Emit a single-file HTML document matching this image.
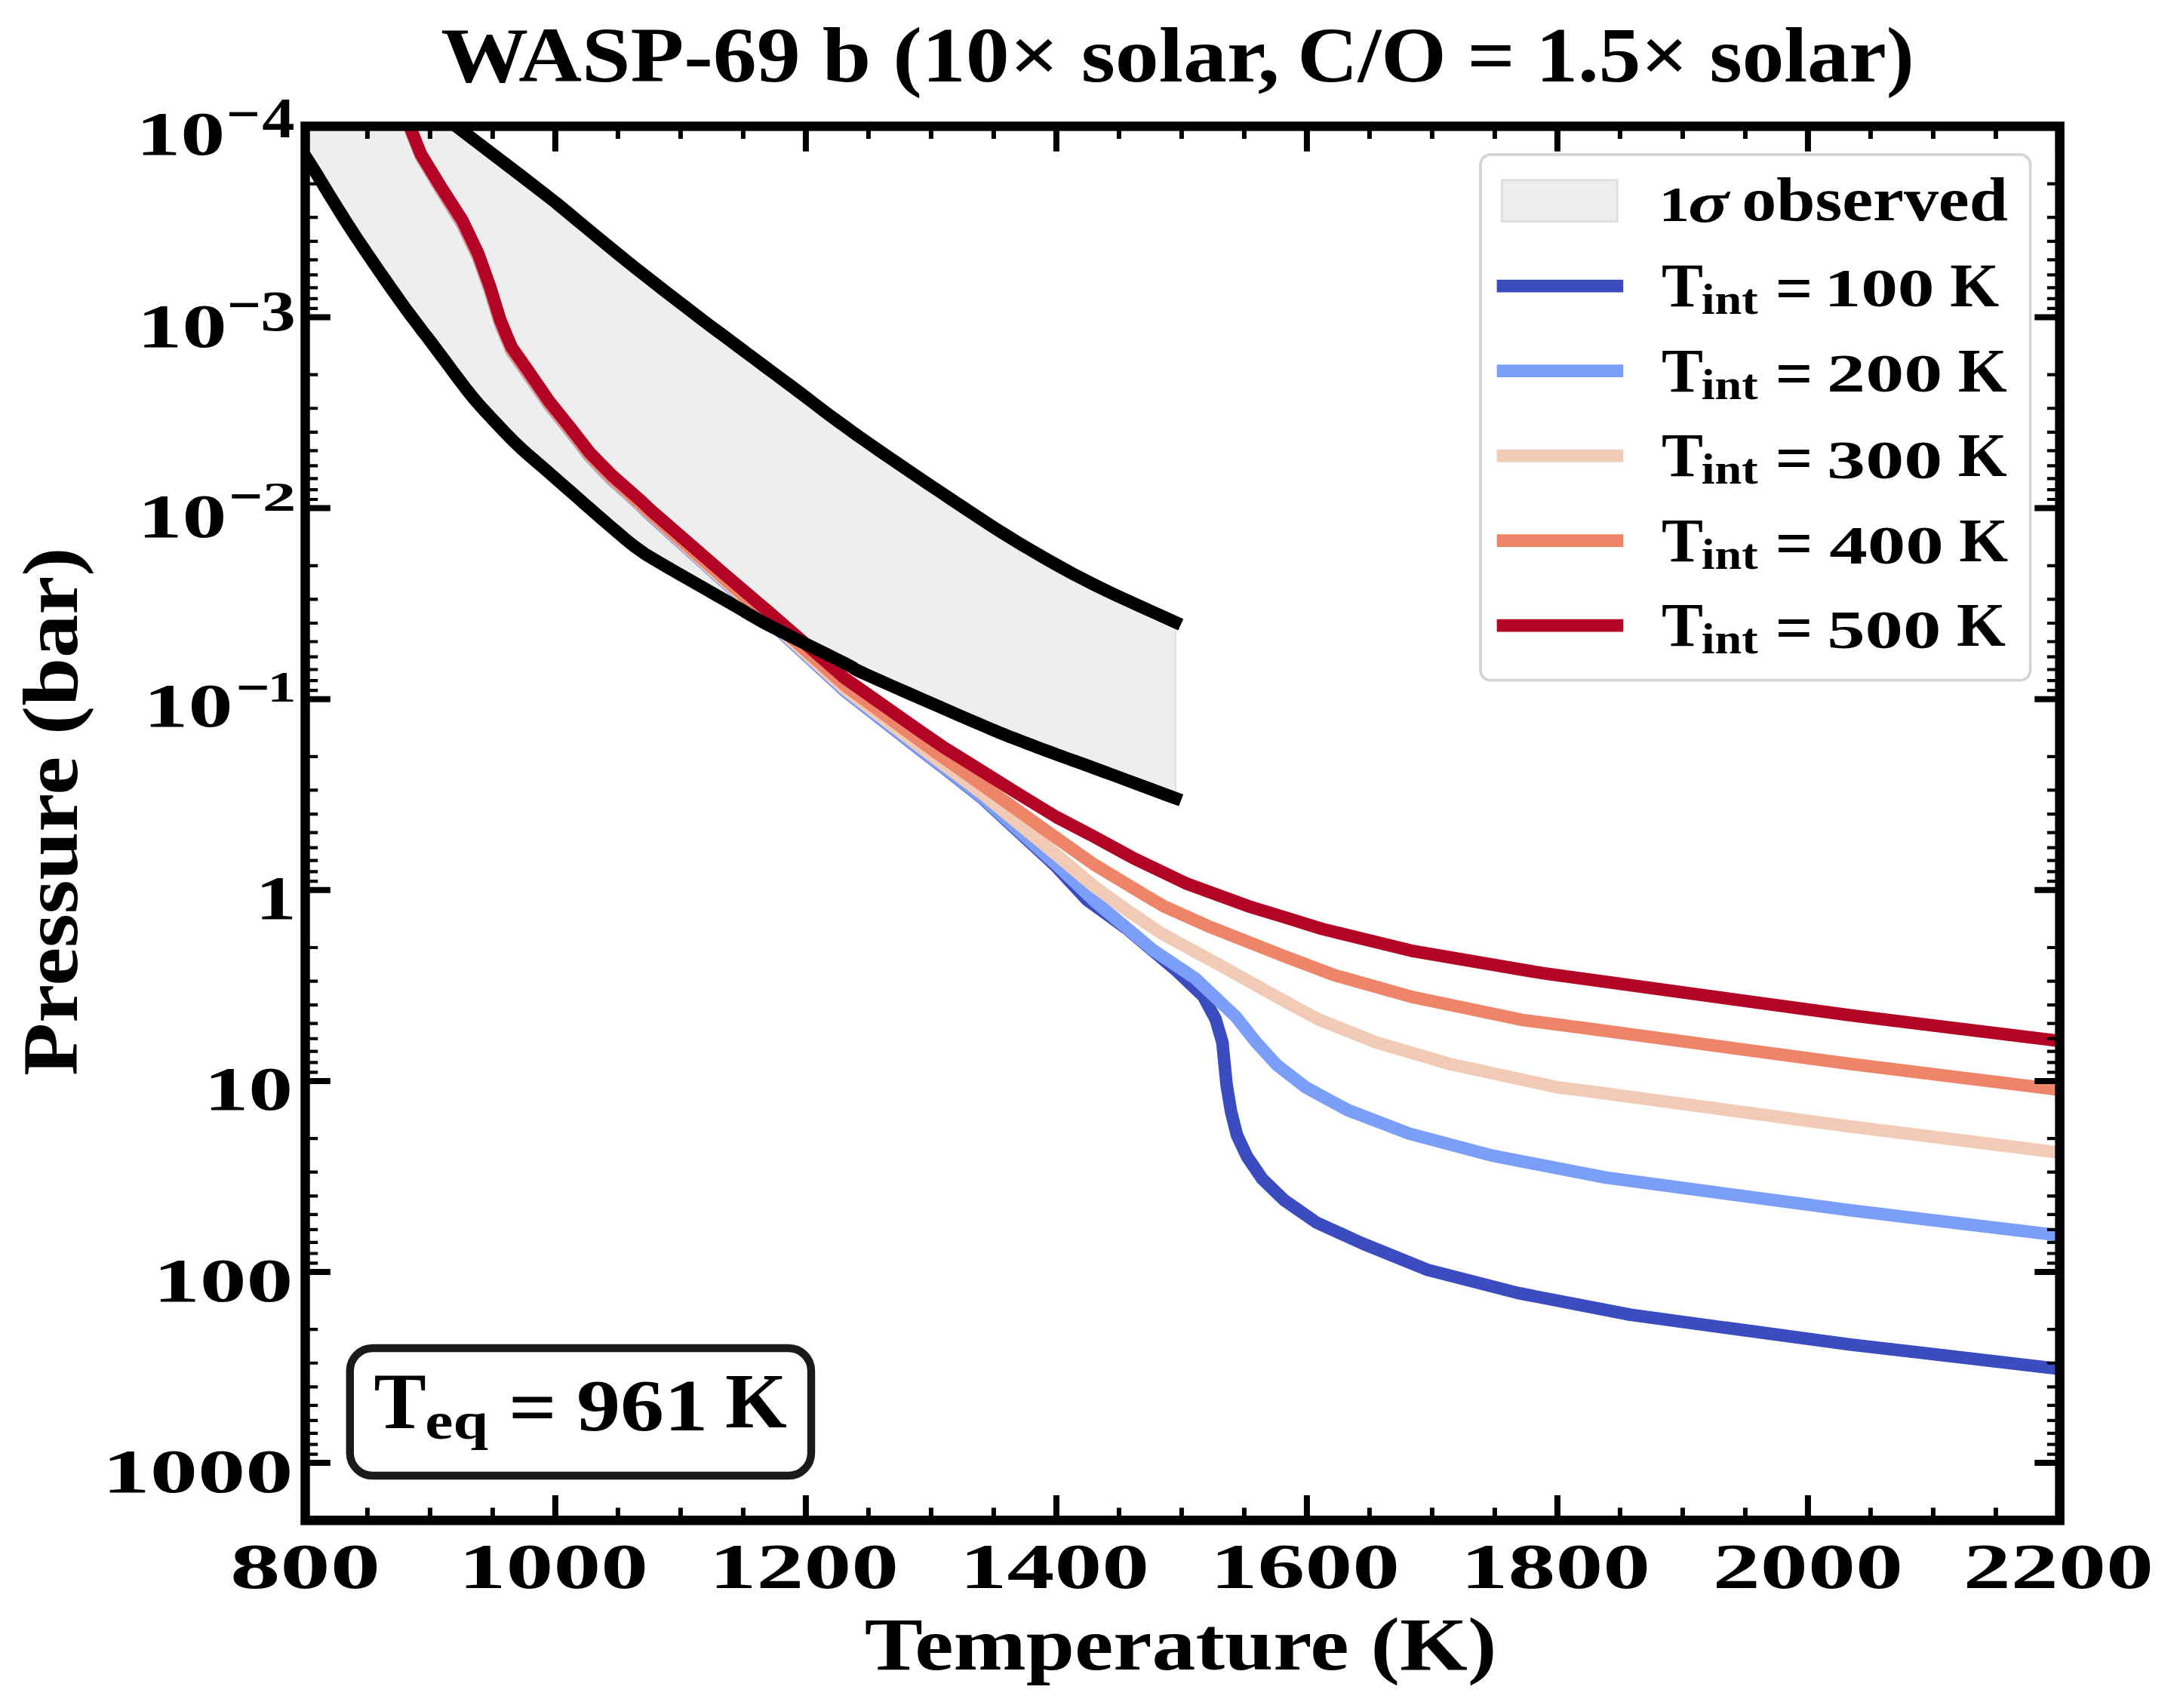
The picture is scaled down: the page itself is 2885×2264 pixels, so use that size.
<!DOCTYPE html><html><head><meta charset="utf-8"><style>html,body{margin:0;padding:0;background:#fff;width:2885px;height:2264px;overflow:hidden;position:relative}</style></head><body><svg width="2885" height="2264" viewBox="0 0 2885 2264" style="position:absolute;left:0;top:0">
<defs><clipPath id="ax"><rect x="404.5" y="167.4" width="2325.1" height="1847.8999999999999"/></clipPath></defs>
<g font-family="Liberation Serif" font-weight="bold">
<g clip-path="url(#ax)">
<polygon points="570.0,141.0 613.4,174.1 690.0,232.5 737.1,269.0 744.3,275.0 754.0,283.0 765.5,292.6 778.3,303.2 791.8,314.4 805.4,325.5 818.5,336.3 830.5,346.0 842.1,355.2 853.9,364.6 865.9,373.9 877.6,383.1 889.0,391.8 899.7,400.1 909.6,407.7 918.3,414.4 925.4,419.9 930.9,424.1 935.3,427.4 939.1,430.3 943.0,433.2 947.4,436.4 952.9,440.5 960.0,445.8 968.8,452.4 978.7,459.8 989.5,467.9 1001.0,476.4 1012.8,485.2 1024.8,494.1 1036.5,502.9 1047.8,511.3 1058.5,519.3 1068.9,527.2 1079.1,535.0 1089.4,542.8 1100.0,550.8 1111.1,559.0 1122.9,567.6 1135.6,576.7 1149.6,586.5 1164.8,597.1 1180.9,608.2 1197.4,619.4 1214.0,630.6 1230.2,641.6 1245.7,651.9 1260.0,661.5 1273.2,670.3 1285.6,678.5 1297.4,686.3 1308.8,693.7 1319.9,700.9 1331.0,707.9 1342.2,714.8 1353.7,721.8 1365.3,728.7 1376.6,735.3 1387.8,741.8 1399.1,748.1 1410.5,754.4 1422.3,760.8 1434.6,767.2 1447.4,773.7 1461.7,780.7 1477.8,788.4 1494.8,796.3 1512.0,804.1 1528.3,811.5 1543.1,818.2 1555.6,823.8 1557.9,824.9 1557.9,1058.1 1555.9,1057.3 1543.0,1052.6 1527.6,1046.8 1510.7,1040.6 1493.5,1034.2 1476.9,1028.0 1462.1,1022.6 1450.0,1018.1 1440.6,1014.7 1432.9,1011.9 1426.5,1009.5 1420.9,1007.6 1415.9,1005.8 1411.0,1004.0 1405.8,1002.1 1400.0,1000.0 1393.8,997.7 1387.5,995.4 1381.2,993.0 1375.0,990.7 1368.8,988.3 1362.5,985.9 1356.2,983.5 1350.0,981.1 1344.4,978.9 1339.8,977.2 1335.6,975.6 1331.2,973.8 1326.1,971.7 1319.5,969.0 1311.0,965.4 1300.0,960.7 1285.2,954.3 1266.7,946.3 1245.8,937.2 1223.8,927.6 1201.9,918.0 1181.4,909.0 1163.7,901.1 1150.0,895.0 1141.0,890.9 1135.7,888.4 1133.0,887.0 1131.9,886.2 1131.1,885.5 1129.6,884.5 1126.3,882.6 1120.0,879.3 1110.5,874.6 1098.8,868.8 1085.5,862.2 1071.4,855.2 1057.1,848.2 1043.3,841.3 1030.7,834.9 1020.0,829.4 1011.4,824.8 1004.4,821.0 998.5,817.6 993.1,814.5 987.9,811.3 982.2,807.9 975.7,804.1 967.8,799.5 958.2,794.0 947.1,787.7 935.1,780.8 922.7,773.8 910.5,766.8 899.0,760.2 888.6,754.2 880.0,749.2 873.2,745.2 867.8,742.1 863.5,739.5 859.9,737.4 856.7,735.4 853.6,733.4 850.3,731.1 846.4,728.3 842.3,725.3 838.4,722.3 834.5,719.3 830.6,716.1 826.5,712.7 822.1,708.9 817.1,704.7 811.6,700.0 805.2,694.5 797.8,688.1 789.9,681.2 781.7,674.1 773.5,666.9 765.7,660.0 758.4,653.6 752.0,648.0 746.5,643.2 741.7,639.0 737.4,635.3 733.5,631.8 729.8,628.6 726.1,625.3 722.3,622.0 718.3,618.5 714.1,614.9 710.0,611.3 705.9,607.8 701.8,604.3 697.7,600.8 693.6,597.1 689.4,593.3 685.2,589.3 680.9,585.1 676.4,580.6 671.9,576.0 667.3,571.3 662.8,566.5 658.4,561.8 654.1,557.2 650.0,552.8 646.2,548.7 642.7,545.0 639.4,541.4 636.2,537.9 632.9,534.1 629.4,530.0 625.5,525.4 621.2,520.0 616.3,513.8 611.1,506.9 605.5,499.5 599.7,491.7 593.7,483.7 587.8,475.6 581.8,467.7 576.1,460.0 570.5,452.6 565.1,445.5 559.6,438.4 554.2,431.2 548.7,424.0 543.0,416.4 537.1,408.5 531.0,400.0 524.4,390.7 517.3,380.7 510.0,370.1 502.5,359.4 495.2,348.7 488.1,338.3 481.6,328.7 475.7,320.0 470.5,312.2 465.8,304.9 461.4,298.2 457.4,291.9 453.7,286.0 450.3,280.5 447.0,275.3 443.9,270.3 441.0,265.7 438.5,261.7 436.3,258.1 434.3,254.8 432.4,251.6 430.6,248.6 428.7,245.5 426.7,242.2 424.7,239.0 422.9,236.0 421.2,233.1 419.4,230.2 417.6,227.2 415.5,223.9 413.2,220.2 410.5,216.0 407.2,210.9 403.2,204.8 398.8,198.2 394.2,191.4 389.8,184.8 385.8,178.7 382.5,173.7 380.0,170.0" fill="#eeeeee" stroke="#e2e2e2" stroke-width="2.5"/>
<polyline points="530.0,132.5 545.8,176.6 557.6,206.4 584.4,251.3 612.5,296.4 633.5,340.5 649.3,384.5 662.8,428.3 671.1,448.7 677.9,464.7 697.4,492.4 727.6,536.2 754.4,569.6 781.8,605.4 811.0,635.8 849.0,670.1 860.0,681.0 960.0,771.1 1020.0,824.1 1120.0,916.2 1220.0,994.4 1250.0,1017.4 1300.0,1056.7 1400.0,1149.0 1440.0,1192.4 1492.7,1230.7 1559.4,1286.9 1594.6,1320.6 1611.0,1351.0 1619.9,1381.6 1625.5,1437.8 1631.3,1473.0 1639.2,1504.6 1652.4,1532.7 1672.6,1562.5 1701.5,1590.6 1744.6,1620.5 1805.0,1648.0 1891.9,1683.2 2011.0,1713.8 2160.8,1742.8 2450.0,1782.0 2740.0,1815.7" fill="none" stroke="#3b4cc0" stroke-width="16.67" stroke-linejoin="round" stroke-linecap="butt"/>
<polyline points="530.0,132.5 545.8,176.6 557.6,206.4 584.4,251.3 612.5,296.4 633.5,340.5 649.3,384.5 662.8,428.3 671.1,448.7 677.9,464.7 697.4,492.4 727.6,536.2 754.4,569.6 781.8,605.4 811.0,635.7 849.0,670.0 860.0,680.8 960.0,771.0 1020.0,824.1 1120.0,916.0 1220.0,993.9 1250.0,1016.8 1300.0,1055.8 1400.0,1146.0 1450.0,1194.0 1527.8,1259.2 1584.0,1296.9 1615.6,1326.8 1638.0,1348.0 1663.8,1380.7 1691.9,1411.5 1730.5,1441.3 1786.0,1471.4 1867.0,1502.5 1976.3,1531.5 2127.0,1560.8 2450.0,1604.0 2740.0,1638.8" fill="none" stroke="#7b9ff9" stroke-width="16.67" stroke-linejoin="round" stroke-linecap="butt"/>
<polyline points="530.0,132.0 545.8,176.1 557.6,205.9 584.4,250.6 612.5,295.4 633.5,339.6 649.3,383.5 662.8,427.4 671.1,447.8 677.9,463.9 697.4,491.6 727.6,535.5 754.4,568.9 781.8,604.6 811.0,634.8 849.0,669.0 860.0,679.8 960.0,769.8 1020.0,822.7 1120.0,913.6 1220.0,990.4 1250.0,1013.0 1300.0,1050.5 1400.0,1133.0 1450.0,1175.0 1500.0,1211.0 1538.4,1236.7 1615.6,1278.8 1700.0,1325.7 1746.8,1351.0 1823.0,1381.4 1922.5,1410.7 2064.2,1441.3 2100.0,1445.8 2450.0,1492.9 2740.0,1529.2" fill="none" stroke="#f2cbb7" stroke-width="16.67" stroke-linejoin="round" stroke-linecap="butt"/>
<polyline points="530.0,131.5 545.8,175.6 557.6,205.4 584.4,250.0 612.5,294.7 633.5,338.8 649.3,382.8 662.8,426.6 671.1,447.0 677.9,463.1 697.4,490.9 727.6,534.7 754.4,568.2 781.8,603.8 811.0,633.9 849.0,668.0 860.0,678.8 960.0,767.4 1020.0,819.6 1120.0,908.7 1220.0,982.5 1250.0,1004.2 1300.0,1039.4 1400.0,1110.7 1450.0,1146.0 1500.0,1176.1 1541.9,1201.2 1605.1,1229.3 1700.0,1266.7 1767.9,1292.4 1872.1,1321.7 2015.9,1351.7 2100.0,1362.7 2450.0,1410.0 2740.0,1445.9" fill="none" stroke="#ee8468" stroke-width="16.67" stroke-linejoin="round" stroke-linecap="butt"/>
<polyline points="530.0,130.0 545.8,174.1 557.6,203.9 584.4,247.8 612.5,291.7 633.5,335.6 649.3,379.6 662.8,423.5 671.1,443.9 677.9,460.0 697.4,487.8 727.6,531.7 754.4,565.1 781.8,600.3 811.0,630.0 849.0,663.5 860.0,674.1 960.0,761.0 1020.0,812.1 1120.0,899.3 1220.0,969.6 1250.0,990.2 1350.0,1052.5 1400.0,1083.0 1450.0,1109.1 1500.0,1136.4 1573.5,1171.7 1654.3,1201.2 1700.0,1215.1 1752.7,1231.5 1873.3,1260.8 2046.5,1290.3 2450.0,1345.5 2740.0,1381.1" fill="none" stroke="#b40426" stroke-width="16.67" stroke-linejoin="round" stroke-linecap="butt"/>
<polyline points="570.0,141.0 613.4,174.1 690.0,232.5 737.1,269.0 744.3,275.0 754.0,283.0 765.5,292.6 778.3,303.2 791.8,314.4 805.4,325.5 818.5,336.3 830.5,346.0 842.1,355.2 853.9,364.6 865.9,373.9 877.6,383.1 889.0,391.8 899.7,400.1 909.6,407.7 918.3,414.4 925.4,419.9 930.9,424.1 935.3,427.4 939.1,430.3 943.0,433.2 947.4,436.4 952.9,440.5 960.0,445.8 968.8,452.4 978.7,459.8 989.5,467.9 1001.0,476.4 1012.8,485.2 1024.8,494.1 1036.5,502.9 1047.8,511.3 1058.5,519.3 1068.9,527.2 1079.1,535.0 1089.4,542.8 1100.0,550.8 1111.1,559.0 1122.9,567.6 1135.6,576.7 1149.6,586.5 1164.8,597.1 1180.9,608.2 1197.4,619.4 1214.0,630.6 1230.2,641.6 1245.7,651.9 1260.0,661.5 1273.2,670.3 1285.6,678.5 1297.4,686.3 1308.8,693.7 1319.9,700.9 1331.0,707.9 1342.2,714.8 1353.7,721.8 1365.3,728.7 1376.6,735.3 1387.8,741.8 1399.1,748.1 1410.5,754.4 1422.3,760.8 1434.6,767.2 1447.4,773.7 1461.7,780.7 1477.8,788.4 1494.8,796.3 1512.0,804.1 1528.3,811.5 1543.1,818.2 1555.6,823.8 1564.8,828.0" fill="none" stroke="#000" stroke-width="16.67" stroke-linejoin="round" stroke-linecap="butt"/>
<polyline points="380.0,170.0 382.5,173.7 385.8,178.7 389.8,184.8 394.2,191.4 398.8,198.2 403.2,204.8 407.2,210.9 410.5,216.0 413.2,220.2 415.5,223.9 417.6,227.2 419.4,230.2 421.2,233.1 422.9,236.0 424.7,239.0 426.7,242.2 428.7,245.5 430.6,248.6 432.4,251.6 434.3,254.8 436.3,258.1 438.5,261.7 441.0,265.7 443.9,270.3 447.0,275.3 450.3,280.5 453.7,286.0 457.4,291.9 461.4,298.2 465.8,304.9 470.5,312.2 475.7,320.0 481.6,328.7 488.1,338.3 495.2,348.7 502.5,359.4 510.0,370.1 517.3,380.7 524.4,390.7 531.0,400.0 537.1,408.5 543.0,416.4 548.7,424.0 554.2,431.2 559.6,438.4 565.1,445.5 570.5,452.6 576.1,460.0 581.8,467.7 587.8,475.6 593.7,483.7 599.7,491.7 605.5,499.5 611.1,506.9 616.3,513.8 621.2,520.0 625.5,525.4 629.4,530.0 632.9,534.1 636.2,537.9 639.4,541.4 642.7,545.0 646.2,548.7 650.0,552.8 654.1,557.2 658.4,561.8 662.8,566.5 667.3,571.3 671.9,576.0 676.4,580.6 680.9,585.1 685.2,589.3 689.4,593.3 693.6,597.1 697.7,600.8 701.8,604.3 705.9,607.8 710.0,611.3 714.1,614.9 718.3,618.5 722.3,622.0 726.1,625.3 729.8,628.6 733.5,631.8 737.4,635.3 741.7,639.0 746.5,643.2 752.0,648.0 758.4,653.6 765.7,660.0 773.5,666.9 781.7,674.1 789.9,681.2 797.8,688.1 805.2,694.5 811.6,700.0 817.1,704.7 822.1,708.9 826.5,712.7 830.6,716.1 834.5,719.3 838.4,722.3 842.3,725.3 846.4,728.3 850.3,731.1 853.6,733.4 856.7,735.4 859.9,737.4 863.5,739.5 867.8,742.1 873.2,745.2 880.0,749.2 888.6,754.2 899.0,760.2 910.5,766.8 922.7,773.8 935.1,780.8 947.1,787.7 958.2,794.0 967.8,799.5 975.7,804.1 982.2,807.9 987.9,811.3 993.1,814.5 998.5,817.6 1004.4,821.0 1011.4,824.8 1020.0,829.4 1030.7,834.9 1043.3,841.3 1057.1,848.2 1071.4,855.2 1085.5,862.2 1098.8,868.8 1110.5,874.6 1120.0,879.3 1126.3,882.6 1129.6,884.5 1131.1,885.5 1131.9,886.2 1133.0,887.0 1135.7,888.4 1141.0,890.9 1150.0,895.0 1163.7,901.1 1181.4,909.0 1201.9,918.0 1223.8,927.6 1245.8,937.2 1266.7,946.3 1285.2,954.3 1300.0,960.7 1311.0,965.4 1319.5,969.0 1326.1,971.7 1331.2,973.8 1335.6,975.6 1339.8,977.2 1344.4,978.9 1350.0,981.1 1356.2,983.5 1362.5,985.9 1368.8,988.3 1375.0,990.7 1381.2,993.0 1387.5,995.4 1393.8,997.7 1400.0,1000.0 1405.8,1002.1 1411.0,1004.0 1415.9,1005.8 1420.9,1007.6 1426.5,1009.5 1432.9,1011.9 1440.6,1014.7 1450.0,1018.1 1462.1,1022.6 1476.9,1028.0 1493.5,1034.2 1510.7,1040.6 1527.6,1046.8 1543.0,1052.6 1555.9,1057.3 1565.2,1060.8" fill="none" stroke="#000" stroke-width="16.67" stroke-linejoin="round" stroke-linecap="butt"/>
</g>
<path d="M403.90,2015.30v-33.3M403.90,167.40v33.3M735.90,2015.30v-33.3M735.90,167.40v33.3M1067.90,2015.30v-33.3M1067.90,167.40v33.3M1399.90,2015.30v-33.3M1399.90,167.40v33.3M1731.90,2015.30v-33.3M1731.90,167.40v33.3M2063.90,2015.30v-33.3M2063.90,167.40v33.3M2395.90,2015.30v-33.3M2395.90,167.40v33.3M2727.90,2015.30v-33.3M2727.90,167.40v33.3M404.50,167.40h33.3M2729.60,167.40h-33.3M404.50,420.50h33.3M2729.60,420.50h-33.3M404.50,673.60h33.3M2729.60,673.60h-33.3M404.50,926.70h33.3M2729.60,926.70h-33.3M404.50,1179.81h33.3M2729.60,1179.81h-33.3M404.50,1432.91h33.3M2729.60,1432.91h-33.3M404.50,1686.01h33.3M2729.60,1686.01h-33.3M404.50,1939.11h33.3M2729.60,1939.11h-33.3" stroke="#000" stroke-width="8.0" fill="none"/>
<path d="M404.50,243.59h16.7M2729.60,243.59h-16.7M404.50,288.16h16.7M2729.60,288.16h-16.7M404.50,319.78h16.7M2729.60,319.78h-16.7M404.50,344.31h16.7M2729.60,344.31h-16.7M404.50,364.35h16.7M2729.60,364.35h-16.7M404.50,381.30h16.7M2729.60,381.30h-16.7M404.50,395.97h16.7M2729.60,395.97h-16.7M404.50,408.92h16.7M2729.60,408.92h-16.7M404.50,496.69h16.7M2729.60,496.69h-16.7M404.50,541.26h16.7M2729.60,541.26h-16.7M404.50,572.88h16.7M2729.60,572.88h-16.7M404.50,597.41h16.7M2729.60,597.41h-16.7M404.50,617.45h16.7M2729.60,617.45h-16.7M404.50,634.40h16.7M2729.60,634.40h-16.7M404.50,649.07h16.7M2729.60,649.07h-16.7M404.50,662.02h16.7M2729.60,662.02h-16.7M404.50,749.79h16.7M2729.60,749.79h-16.7M404.50,794.36h16.7M2729.60,794.36h-16.7M404.50,825.98h16.7M2729.60,825.98h-16.7M404.50,850.51h16.7M2729.60,850.51h-16.7M404.50,870.55h16.7M2729.60,870.55h-16.7M404.50,887.50h16.7M2729.60,887.50h-16.7M404.50,902.18h16.7M2729.60,902.18h-16.7M404.50,915.12h16.7M2729.60,915.12h-16.7M404.50,1002.89h16.7M2729.60,1002.89h-16.7M404.50,1047.46h16.7M2729.60,1047.46h-16.7M404.50,1079.09h16.7M2729.60,1079.09h-16.7M404.50,1103.61h16.7M2729.60,1103.61h-16.7M404.50,1123.65h16.7M2729.60,1123.65h-16.7M404.50,1140.60h16.7M2729.60,1140.60h-16.7M404.50,1155.28h16.7M2729.60,1155.28h-16.7M404.50,1168.22h16.7M2729.60,1168.22h-16.7M404.50,1256.00h16.7M2729.60,1256.00h-16.7M404.50,1300.57h16.7M2729.60,1300.57h-16.7M404.50,1332.19h16.7M2729.60,1332.19h-16.7M404.50,1356.72h16.7M2729.60,1356.72h-16.7M404.50,1376.76h16.7M2729.60,1376.76h-16.7M404.50,1393.70h16.7M2729.60,1393.70h-16.7M404.50,1408.38h16.7M2729.60,1408.38h-16.7M404.50,1421.33h16.7M2729.60,1421.33h-16.7M404.50,1509.10h16.7M2729.60,1509.10h-16.7M404.50,1553.67h16.7M2729.60,1553.67h-16.7M404.50,1585.29h16.7M2729.60,1585.29h-16.7M404.50,1609.82h16.7M2729.60,1609.82h-16.7M404.50,1629.86h16.7M2729.60,1629.86h-16.7M404.50,1646.80h16.7M2729.60,1646.80h-16.7M404.50,1661.48h16.7M2729.60,1661.48h-16.7M404.50,1674.43h16.7M2729.60,1674.43h-16.7M404.50,1762.20h16.7M2729.60,1762.20h-16.7M404.50,1806.77h16.7M2729.60,1806.77h-16.7M404.50,1838.39h16.7M2729.60,1838.39h-16.7M404.50,1862.92h16.7M2729.60,1862.92h-16.7M404.50,1882.96h16.7M2729.60,1882.96h-16.7M404.50,1899.90h16.7M2729.60,1899.90h-16.7M404.50,1914.58h16.7M2729.60,1914.58h-16.7M404.50,1927.53h16.7M2729.60,1927.53h-16.7" stroke="#000" stroke-width="4.2" fill="none"/>
<path d="M486.90,2015.30v-16.7M486.90,167.40v16.7M569.90,2015.30v-16.7M569.90,167.40v16.7M652.90,2015.30v-16.7M652.90,167.40v16.7M818.90,2015.30v-16.7M818.90,167.40v16.7M901.90,2015.30v-16.7M901.90,167.40v16.7M984.90,2015.30v-16.7M984.90,167.40v16.7M1150.90,2015.30v-16.7M1150.90,167.40v16.7M1233.90,2015.30v-16.7M1233.90,167.40v16.7M1316.90,2015.30v-16.7M1316.90,167.40v16.7M1482.90,2015.30v-16.7M1482.90,167.40v16.7M1565.90,2015.30v-16.7M1565.90,167.40v16.7M1648.90,2015.30v-16.7M1648.90,167.40v16.7M1814.90,2015.30v-16.7M1814.90,167.40v16.7M1897.90,2015.30v-16.7M1897.90,167.40v16.7M1980.90,2015.30v-16.7M1980.90,167.40v16.7M2146.90,2015.30v-16.7M2146.90,167.40v16.7M2229.90,2015.30v-16.7M2229.90,167.40v16.7M2312.90,2015.30v-16.7M2312.90,167.40v16.7M2478.90,2015.30v-16.7M2478.90,167.40v16.7M2561.90,2015.30v-16.7M2561.90,167.40v16.7M2644.90,2015.30v-16.7M2644.90,167.40v16.7" stroke="#000" stroke-width="6.0" fill="none"/>
<rect x="404.5" y="167.4" width="2325.10" height="1847.90" fill="none" stroke="#000" stroke-width="12.5" stroke-linejoin="miter"/>
<text transform="translate(584.14,107.50) scale(1.1594,1.0385)" font-size="100" style="" fill="#000" >WASP-69 b (10× solar,</text>
<text transform="translate(1719.25,107.50) scale(1.1107,1.0385)" font-size="100" style="" fill="#000" >C/O = 1.5× solar)</text>
<text transform="translate(1145.69,2213.00) scale(1.1558,1.0000)" font-size="100" style="" fill="#000" >Temperature (K)</text>
<g transform="translate(102,1423.6) rotate(-90)"><text transform="translate(-2.30,0) scale(1.1483,1.0308)" font-size="100">Pressure (bar)</text></g>
<text transform="translate(304.91,2104.50) scale(1.3287,0.8409)" font-size="100" style="" fill="#000" >800</text>
<text transform="translate(607.86,2104.50) scale(1.2553,0.8409)" font-size="100" style="" fill="#000" >1000</text>
<text transform="translate(939.86,2104.50) scale(1.2553,0.8409)" font-size="100" style="" fill="#000" >1200</text>
<text transform="translate(1271.86,2104.50) scale(1.2553,0.8409)" font-size="100" style="" fill="#000" >1400</text>
<text transform="translate(1603.86,2104.50) scale(1.2553,0.8409)" font-size="100" style="" fill="#000" >1600</text>
<text transform="translate(1935.86,2104.50) scale(1.2553,0.8409)" font-size="100" style="" fill="#000" >1800</text>
<text transform="translate(2269.86,2104.50) scale(1.2604,0.8409)" font-size="100" style="" fill="#000" >2000</text>
<text transform="translate(2601.86,2104.50) scale(1.2604,0.8409)" font-size="100" style="" fill="#000" >2200</text>
<text transform="translate(180.15,205.10) scale(1.1818,0.8258)" font-size="100" style="" fill="#000" >10</text>
<text transform="translate(347.13,182.30) scale(0.8660,0.7515)" font-size="100" style="" fill="#000" >4</text>
<rect x="304.0" y="148.6" width="37" height="5.5" fill="#000"/>
<text transform="translate(181.67,459.60) scale(1.1909,0.8258)" font-size="100" style="" fill="#000" >10</text>
<text transform="translate(345.28,437.50) scale(0.9302,0.7515)" font-size="100" style="" fill="#000" >3</text>
<rect x="305.0" y="401.6" width="37" height="5.5" fill="#000"/>
<text transform="translate(182.56,712.00) scale(1.1795,0.8258)" font-size="100" style="" fill="#000" >10</text>
<text transform="translate(347.73,677.30) scale(0.8929,0.5500)" font-size="100" style="" fill="#000" >2</text>
<rect x="307.3" y="655.2" width="37" height="5.5" fill="#000"/>
<text transform="translate(190.35,963.00) scale(1.1818,0.8258)" font-size="100" style="" fill="#000" >10</text>
<text transform="translate(354.62,930.20) scale(0.7595,0.5682)" font-size="100" style="" fill="#000" >1</text>
<rect x="316.7" y="908.8" width="37" height="5.5" fill="#000"/>
<text transform="translate(338.87,1217.50) scale(1.0784,0.8182)" font-size="100" style="" fill="#000" >1</text>
<text transform="translate(270.39,1471.00) scale(1.1761,0.8182)" font-size="100" style="" fill="#000" >10</text>
<text transform="translate(202.90,1725.40) scale(1.2370,0.8182)" font-size="100" style="" fill="#000" >100</text>
<text transform="translate(135.58,1978.40) scale(1.2649,0.8182)" font-size="100" style="" fill="#000" >1000</text>
<rect x="1962" y="204.9" width="728.6" height="696.8" rx="13.5" ry="13.5" fill="#fff" stroke="#d4d4d4" stroke-width="3.8"/>
<rect x="1990.6" y="238.9" width="152.6" height="54.8" fill="#eeeeee" stroke="#dedede" stroke-width="3"/>
<text transform="translate(2198.51,292.50) scale(0.8108,0.6462)" font-size="100" style="" fill="#000" >1</text>
<text transform="translate(2237.00,293.50) scale(1.0000,0.7547)" font-size="100" style="font-style:italic;" fill="#000" >σ</text>
<text transform="translate(2308.32,292.00) scale(0.9198,0.8333)" font-size="100" style="" fill="#000" >observed</text>
<line x1="1983.6" y1="379.2" x2="2151.2" y2="379.2" stroke="#3b4cc0" stroke-width="16.67"/>
<text transform="translate(2201.95,406.40) scale(0.8238,0.8308)" font-size="100" style="" fill="#000" >T</text>
<text transform="translate(2254.72,416.20) scale(0.6421,0.5686)" font-size="100" style="" fill="#000" >int</text>
<text transform="translate(2352.84,411.01) scale(0.8717,0.8407)" font-size="100" style="" fill="#000" >=</text>
<text transform="translate(2417.40,406.40) scale(0.9746,0.7121)" font-size="100" style="" fill="#000" >100</text>
<text transform="translate(2584.13,406.40) scale(0.8333,0.8308)" font-size="100" style="" fill="#000" >K</text>
<line x1="1983.6" y1="491.7" x2="2151.2" y2="491.7" stroke="#7b9ff9" stroke-width="16.67"/>
<text transform="translate(2201.95,518.90) scale(0.8238,0.8308)" font-size="100" style="" fill="#000" >T</text>
<text transform="translate(2254.72,528.70) scale(0.6421,0.5686)" font-size="100" style="" fill="#000" >int</text>
<text transform="translate(2352.84,523.51) scale(0.8717,0.8407)" font-size="100" style="" fill="#000" >=</text>
<text transform="translate(2421.12,518.90) scale(1.0204,0.7121)" font-size="100" style="" fill="#000" >200</text>
<text transform="translate(2594.63,518.90) scale(0.8333,0.8308)" font-size="100" style="" fill="#000" >K</text>
<line x1="1983.6" y1="604.2" x2="2151.2" y2="604.2" stroke="#f2cbb7" stroke-width="16.67"/>
<text transform="translate(2201.95,631.40) scale(0.8238,0.8308)" font-size="100" style="" fill="#000" >T</text>
<text transform="translate(2254.72,641.20) scale(0.6421,0.5686)" font-size="100" style="" fill="#000" >int</text>
<text transform="translate(2352.84,636.01) scale(0.8717,0.8407)" font-size="100" style="" fill="#000" >=</text>
<text transform="translate(2421.12,634.40) scale(1.0204,0.7121)" font-size="100" style="" fill="#000" >300</text>
<text transform="translate(2594.63,631.40) scale(0.8333,0.8308)" font-size="100" style="" fill="#000" >K</text>
<line x1="1983.6" y1="716.7" x2="2151.2" y2="716.7" stroke="#ee8468" stroke-width="16.67"/>
<text transform="translate(2201.95,743.90) scale(0.8238,0.8308)" font-size="100" style="" fill="#000" >T</text>
<text transform="translate(2254.72,753.70) scale(0.6421,0.5686)" font-size="100" style="" fill="#000" >int</text>
<text transform="translate(2352.84,748.51) scale(0.8717,0.8407)" font-size="100" style="" fill="#000" >=</text>
<text transform="translate(2424.19,746.90) scale(1.0117,0.7121)" font-size="100" style="" fill="#000" >400</text>
<text transform="translate(2596.33,743.90) scale(0.8333,0.8308)" font-size="100" style="" fill="#000" >K</text>
<line x1="1983.6" y1="829.2" x2="2151.2" y2="829.2" stroke="#b40426" stroke-width="16.67"/>
<text transform="translate(2201.95,856.40) scale(0.8238,0.8308)" font-size="100" style="" fill="#000" >T</text>
<text transform="translate(2254.72,866.20) scale(0.6421,0.5686)" font-size="100" style="" fill="#000" >int</text>
<text transform="translate(2352.84,861.01) scale(0.8717,0.8407)" font-size="100" style="" fill="#000" >=</text>
<text transform="translate(2421.17,859.40) scale(1.0085,0.7121)" font-size="100" style="" fill="#000" >500</text>
<text transform="translate(2592.93,856.40) scale(0.8333,0.8308)" font-size="100" style="" fill="#000" >K</text>
<rect x="463.8" y="1787" width="611.2" height="169" rx="30" ry="30" fill="#fff" stroke="#1a1a1a" stroke-width="10.4"/>
<text transform="translate(495.52,1893.40) scale(1.0381,1.0492)" font-size="100" style="" fill="#000" >T</text>
<text transform="translate(563.29,1907.00) scale(0.8375,0.6937)" font-size="100" style="" fill="#000" >eq</text>
<text transform="translate(673.90,1901.13) scale(1.1196,1.0667)" font-size="100" style="" fill="#000" >=</text>
<text transform="translate(763.91,1896.00) scale(1.1634,0.9697)" font-size="100" style="" fill="#000" >961</text>
<text transform="translate(960.90,1892.00) scale(1.0507,1.0308)" font-size="100" style="" fill="#000" >K</text>
</g></svg></body></html>
